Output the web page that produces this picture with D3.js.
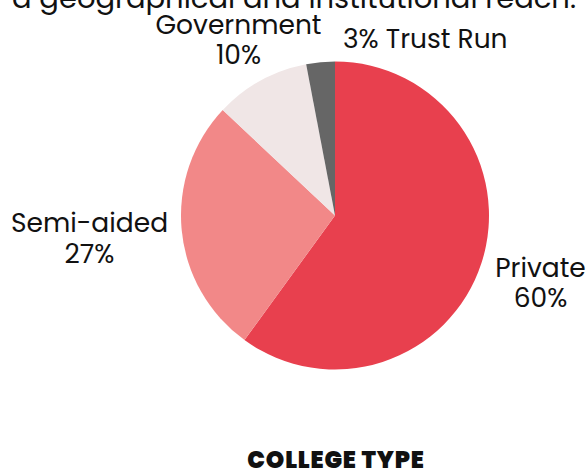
<!DOCTYPE html>
<html>
<head>
<meta charset="utf-8">
<script src="https://cdn.jsdelivr.net/npm/d3@7"></script>
<style>
  html, body { margin: 0; padding: 0; background: #fff; }
  svg { display: block; }
  text { font-family: Poppins, Inter, "Open Sans", sans-serif; fill: #111; }
</style>
</head>
<body>
<svg id="chart" width="587" height="472"></svg>
<script>
// College type shares (percent)
const categories = ["Private", "Semi-aided", "Government", "Trust Run"];
const shares = [60, 27, 10, 3];
const colors = ["#E8404E", "#F28888", "#F0E6E6", "#666666"];
const introLine = "a geographical and institutional reach.";
const axisTitle = "COLLEGE TYPE";

const svg = d3.select("#chart");
const cx = 335, cy = 215.5, r = 154;

const pie = d3.pie().sort(null).value(d => d.value);
const arcs = pie(categories.map((c, i) => ({ name: c, value: shares[i], color: colors[i] })));
const arc = d3.arc().innerRadius(0).outerRadius(r);

// Tail end of the paragraph above the chart
svg.append("text")
  .attr("x", 576).attr("y", 7.5)
  .attr("text-anchor", "end")
  .style("font-size", "29px")
  .text(introLine);

const g = svg.append("g").attr("transform", `translate(${cx},${cy})`);
g.selectAll("path")
  .data(arcs)
  .join("path")
  .attr("d", arc)
  .attr("fill", d => d.data.color);

// Slice labels: name and percentage
const labelPos = {
  "Private":    { x: 540.5, y: [277, 307], anchor: "middle" },
  "Semi-aided": { x: 89.5,  y: [232, 263], anchor: "middle" },
  "Government": { x: 238.5, y: [34, 64],   anchor: "middle" },
  "Trust Run":  { x: 343,   y: [48],       anchor: "start" }
};

arcs.forEach(d => {
  const p = labelPos[d.data.name];
  const t = svg.append("text")
    .attr("text-anchor", p.anchor)
    .style("font-size", "26.5px");
  if (p.y.length === 2) {
    t.append("tspan").attr("x", p.x).attr("y", p.y[0]).text(d.data.name);
    t.append("tspan").attr("x", p.x).attr("y", p.y[1]).text(d.data.value + "%");
  } else {
    t.append("tspan").attr("x", p.x).attr("y", p.y[0]).text(d.data.value + "% " + d.data.name);
  }
});

svg.append("text")
  .attr("x", 336).attr("y", 468)
  .attr("text-anchor", "middle")
  .style("font-size", "23.5px")
  .style("font-weight", "900")
  .style("letter-spacing", "0.8px")
  .text(axisTitle);
</script>
</body>
</html>
